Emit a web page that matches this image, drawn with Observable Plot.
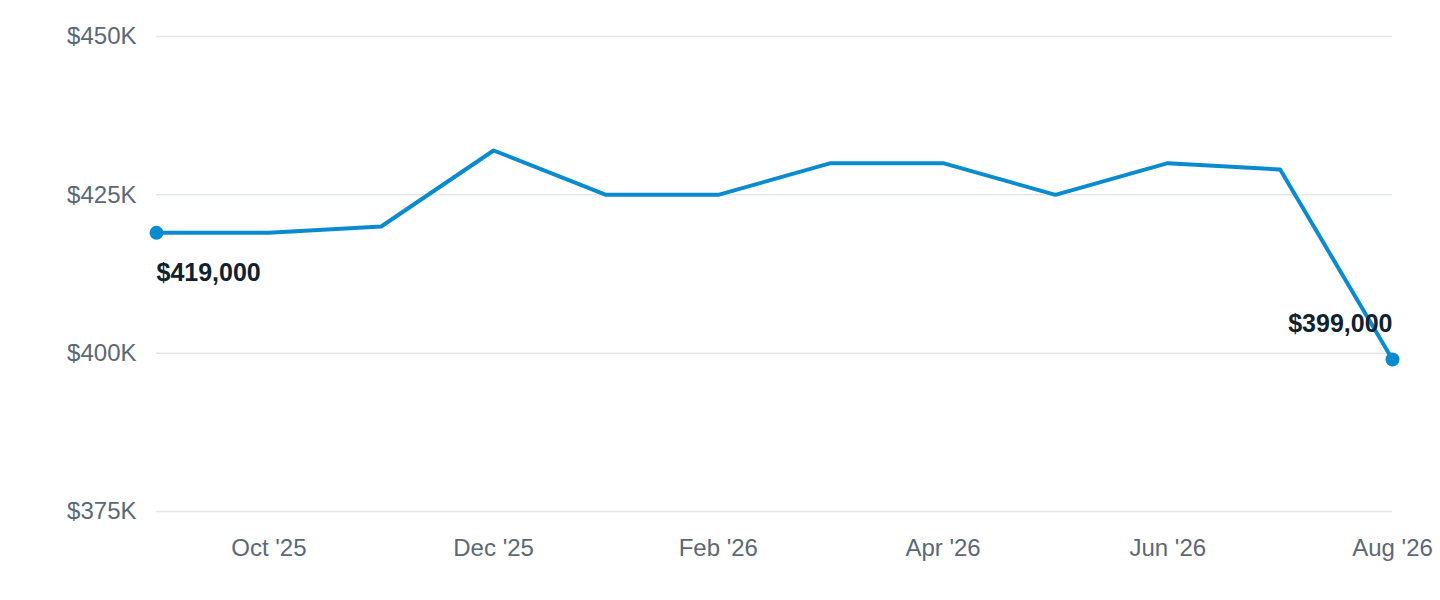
<!DOCTYPE html>
<html>
<head>
<meta charset="utf-8">
<script src="https://cdn.jsdelivr.net/npm/d3@7"></script>
<script src="https://cdn.jsdelivr.net/npm/@observablehq/plot@0.6"></script>
<style>
  html, body { margin: 0; padding: 0; background: #fff; }
  #chart svg { display: block; }
</style>
</head>
<body>
<div id="chart"></div>
<script>
const months = ["2025-09","2025-10","2025-11","2025-12","2026-01","2026-02","2026-03","2026-04","2026-05","2026-06","2026-07","2026-08"];
const prices = [419000, 419000, 420000, 432000, 425000, 425000, 430000, 430000, 425000, 430000, 429000, 399000];
const yTicks = [375000, 400000, 425000, 450000];
const xTickMonths = ["2025-10","2025-12","2026-02","2026-04","2026-06","2026-08"];

const parse = d3.utcParse("%Y-%m");
const fmtMonth = d3.utcFormat("%b '%y");
const data = months.map((m, i) => ({month: m, value: prices[i]}));
const first = data[0];
const last = data[data.length - 1];
const fmtMoney = d3.format("$,.0f");

const chart = Plot.plot({
  width: 1440,
  height: 600,
  marginTop: 36,
  marginBottom: 89,
  marginLeft: 156,
  marginRight: 48,
  style: {fontFamily: "'Liberation Sans', Arial, sans-serif", fontSize: "24px", color: "#5b6876", background: "#fff"},
  x: {type: "point", domain: months, padding: 0, round: false},
  y: {domain: [375000, 450000]},
  marks: [
    Plot.ruleY(yTicks, {stroke: "#e3e7ec", strokeWidth: 1.5}),
    Plot.axisY({ticks: yTicks, tickSize: 0, tickPadding: 20, tickFormat: d => `$${d / 1000}K`, label: null, fill: "#5b6876", fontSize: 24}),
    Plot.axisX({ticks: xTickMonths, tickSize: 0, tickPadding: 27, tickFormat: d => fmtMonth(parse(d)), label: null, fill: "#5b6876", fontSize: 24}),
    Plot.line(data, {x: "month", y: "value", stroke: "#0a8bd0", strokeWidth: 4, strokeLinejoin: "round"}),
    Plot.dot([first, last], {x: "month", y: "value", r: 7, fill: "#0a8bd0"}),
    Plot.text([first], {x: "month", y: "value", text: d => fmtMoney(d.value), textAnchor: "start", dy: 40, fontWeight: "bold", fontSize: 25, fill: "#10222f"}),
    Plot.text([last], {x: "month", y: "value", text: d => fmtMoney(d.value), textAnchor: "end", dy: -36, fontWeight: "bold", fontSize: 25, fill: "#10222f"})
  ]
});
document.getElementById("chart").appendChild(chart);
</script>
</body>
</html>
